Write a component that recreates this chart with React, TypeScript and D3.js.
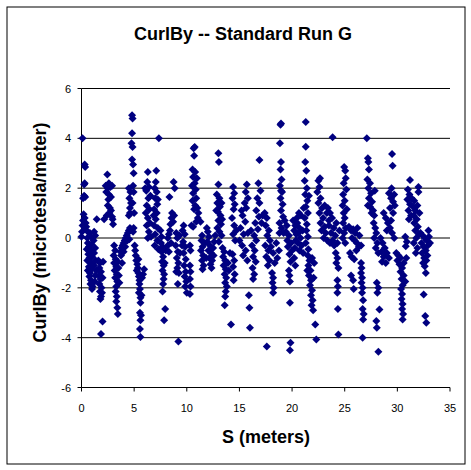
import React from "react";
import * as d3 from "d3";

const TITLE = "CurlBy -- Standard Run G";
const X_TITLE = "S (meters)";
const Y_TITLE = "CurlBy (microtesla/meter)";
const X_TICKS = [0, 5, 10, 15, 20, 25, 30, 35];
const Y_TICKS = [-6, -4, -2, 0, 2, 4, 6];

// [S (m), CurlBy], grouped by 5 m sections
const SEC_A: [number, number][] = [
  [0.1,4.0],[0.3,2.95],[0.35,2.85],[0.3,2.2],[0.25,2.15],[0.15,1.6],[0.35,1.65],[0.25,1.7],[0.2,0.95],[0.3,0.8],[0.15,0.7],[0.4,0.6],[0.1,0.5],[0.3,0.35],[0.05,0.25],[0.0,0.05],[0.45,0.45],
  [0.6,0.25],[0.8,0.2],[0.55,0.0],[0.9,0.05],[0.6,-0.2],[0.7,-0.35],[0.5,-0.45],[0.85,-0.5],[0.65,-0.65],[0.75,-0.8],[0.55,-0.9],[0.9,-1.0],[0.7,-1.15],[0.6,-1.3],[0.8,-1.4],[0.75,-1.55],[0.9,-1.7],[0.85,-1.85],[1.0,-2.05],[1.05,-1.95],[0.95,-1.25],[1.0,-0.75],[0.95,-0.25],
  [1.2,0.25],[1.3,0.1],[1.15,-0.1],[1.3,-0.4],[1.2,-0.6],[1.35,-0.9],[1.2,-1.1],[1.4,-1.3],[1.3,-1.5],[1.45,0.75],[1.25,-1.75],
  [1.6,-0.9],[1.75,-1.0],[1.7,-1.2],[1.85,-1.35],[1.65,-1.5],[1.8,-1.65],[1.7,-1.85],[1.9,-2.0],[1.75,-2.15],[1.85,-2.35],[1.8,-2.45],[2.0,-3.35],[1.85,-3.85],[2.05,-0.95],[2.0,-1.6],[1.95,-2.2],
  [2.15,0.75],[2.4,0.9],[2.45,2.55],[2.3,2.1],[2.5,2.0],[2.35,1.85],[2.6,1.75],[2.55,1.55],[2.7,1.2],[2.65,1.0],[2.8,1.1],[2.9,0.85],[3.0,0.55],[2.95,0.75],[2.9,2.1],[2.75,2.05],[2.6,2.2],[2.8,1.65],[2.5,1.3],
  [3.1,-0.3],[3.2,-0.5],[3.05,-0.7],[3.25,-0.85],[3.1,-1.0],[3.3,-1.15],[3.15,-1.3],[3.35,-1.45],[3.2,-1.6],[3.4,-1.75],[3.3,-1.95],[3.25,-2.15],[3.35,-2.35],[3.3,-2.55],[3.4,-2.8],[3.45,-3.05],[3.5,-1.2],[3.55,-1.5],[3.45,-0.95],[3.6,-1.8],
  [3.7,-0.55],[3.8,-0.4],[3.9,-0.3],[3.75,-0.7],[4.0,-0.2],[4.1,-0.1],[4.2,0.0],[4.3,0.1],[4.4,0.2],[4.5,0.3],[4.6,0.4],[4.5,0.9],[4.6,1.0],[3.85,-1.0],[4.0,-0.55],[4.15,-0.35],[4.35,-0.1],[4.55,-0.05],[4.7,0.35],
  [4.5,2.0],[4.65,1.85],[4.7,1.4],[4.6,1.2],[4.55,1.6],
  [4.8,4.93],[4.85,4.8],[4.8,4.2],[4.75,3.8],[4.85,3.65],[4.8,3.15],[4.9,2.95],[4.95,2.6],[4.9,2.1],[4.95,1.85],[4.85,1.4],[5.0,1.0],[4.95,0.4],[4.9,0.25],
];

const SEC_B: [number, number][] = [
  [5.05,-0.3],[5.1,-0.5],[5.15,-0.7],[5.2,-0.9],[5.3,-1.05],[5.35,-1.2],[5.4,-1.4],[5.45,-1.55],[5.5,-1.7],[5.5,-1.85],[5.55,-2.05],[5.45,-2.2],[5.6,-2.4],[5.6,-2.6],[5.55,-3.0],[5.65,-3.1],[5.6,-3.3],[5.55,-3.65],[5.6,-3.97],[5.7,-2.3],[5.4,-0.85],[5.25,-1.3],
  [5.95,-1.25],[5.85,-1.45],[5.75,-1.6],
  [6.3,2.65],[6.25,2.25],[6.4,2.05],[6.15,1.9],[6.35,1.6],[6.2,1.3],[6.45,1.15],[6.1,1.0],[6.3,0.8],[6.5,0.6],[6.2,0.5],[6.4,0.25],[6.6,0.05],[6.3,0.0],[6.55,1.7],[6.05,2.0],
  [7.1,2.7],[7.05,2.25],[6.95,2.0],[7.15,1.85],[7.0,1.6],[7.2,1.35],[6.9,1.15],[7.15,1.0],[7.05,0.75],[6.9,0.5],[7.25,0.4],[7.0,0.15],[7.2,-0.1],[6.95,-0.3],[7.3,-0.45],[7.35,4.0],[6.85,0.9],[7.25,1.55],
  [7.5,0.3],[7.6,0.05],[7.55,-0.2],[7.7,-0.35],[7.6,-0.55],[7.75,-0.75],[7.65,-0.95],[7.8,-1.1],[7.7,-1.3],[7.85,-1.45],[7.8,-1.65],[7.75,-1.85],[7.7,-2.15],[7.95,-2.85],[7.85,-3.3],[8.0,-0.5],[7.9,-1.0],
  [8.2,0.0],[8.3,0.15],[8.4,0.3],[8.45,0.55],[8.55,0.8],[8.6,1.0],[8.35,1.65],[8.75,2.25],[8.85,2.0],[8.2,-0.3],[8.3,-0.55],[8.5,-0.2],[8.7,0.65],[8.8,0.9],
  [9.0,0.2],[9.1,0.0],[8.95,-0.3],[9.15,-0.55],[9.05,-0.8],[9.2,-1.0],[9.1,-1.2],[9.0,-1.35],[9.25,-1.4],[9.15,-1.85],[9.2,-4.15],[9.3,0.1],[9.35,-0.6],
  [9.7,0.5],[9.6,0.3],[9.8,0.15],[9.65,-0.15],[9.85,-0.35],[9.7,-0.6],[9.9,-0.85],[9.75,-1.1],[9.9,-1.35],[9.8,-1.55],[9.95,-1.75],[9.85,-1.95],[10.0,-2.2],[9.55,-0.3],
];

const SEC_C: [number, number][] = [
  [10.65,3.6],[10.75,3.65],[10.7,3.3],[10.55,2.75],[10.8,2.65],[10.6,2.45],[10.75,2.2],[10.5,2.1],[10.85,1.95],[10.6,1.8],[10.9,1.6],[10.55,1.5],[10.8,1.3],[10.7,1.15],[11.0,1.2],[11.1,1.0],[10.45,0.5],[10.6,0.45],[10.3,-0.3],[10.35,-0.5],[10.3,-1.1],[10.35,-1.35],[10.3,-1.65],[10.35,-1.95],[10.3,-2.25],[10.9,0.65],[11.05,0.8],[10.95,2.4],
  [11.3,0.65],[11.45,0.1],[11.4,-0.1],[11.5,-0.35],[11.35,-0.5],[11.55,-0.7],[11.45,-0.9],[11.6,-1.1],[11.5,-1.25],[11.7,-0.2],
  [11.9,0.4],[12.0,0.25],[12.1,0.05],[11.95,-0.15],[12.2,-0.3],[12.05,-0.5],[12.3,-0.6],[12.15,-0.8],[12.4,-0.9],[12.25,-1.05],[12.5,-0.4],[12.6,-0.15],[12.7,0.1],[12.55,-0.7],[12.35,-1.2],[11.85,-0.8],
  [13.0,3.4],[13.05,3.05],[13.0,2.15],[12.85,1.75],[13.1,1.6],[12.9,1.4],[13.15,1.25],[12.95,1.05],[13.2,0.9],[13.0,0.7],[13.25,0.55],[12.9,0.4],[13.1,0.25],[13.3,0.1],[13.05,-0.15],[12.8,1.1],[13.3,1.4],[13.35,0.75],
  [13.4,-0.4],[13.55,-0.55],[13.45,-0.75],[13.65,-0.9],[13.5,-1.1],[13.7,-1.25],[13.6,-1.45],[13.75,-1.6],[13.65,-1.8],[13.8,-1.95],[13.7,-2.15],[13.65,-2.35],[13.6,-2.7],[14.2,-3.47],[13.9,-1.0],[14.0,-1.3],[14.1,-0.6],
  [14.4,2.05],[14.5,1.8],[14.35,1.6],[14.55,1.35],[14.45,1.15],[14.3,0.8],[14.5,0.5],[14.4,0.15],[14.6,-0.1],[14.35,-0.65],[14.5,-0.9],[14.4,-1.15],[14.55,-1.45],[14.45,-1.7],[14.7,0.3],
  [15.7,2.15],[15.6,1.85],[15.8,1.6],[15.5,1.4],[15.65,1.2],[15.3,0.9],[15.55,0.65],[15.1,0.4],[15.4,0.15],[15.0,-0.1],[15.25,-0.3],[15.6,-0.5],[15.35,-0.7],[15.75,-0.9],[15.9,-2.3],[15.95,-2.8],[16.0,-3.6],[15.2,1.1],[15.8,0.2],
];

const SEC_D: [number, number][] = [
  [16.9,3.13],[16.8,2.2],[17.0,1.9],[16.7,1.6],[16.9,1.4],[16.6,1.1],[16.85,0.85],[16.5,0.6],[16.75,0.35],[16.4,0.1],[16.6,-0.1],[16.2,-0.3],[16.45,-0.5],[16.3,-0.75],[16.55,-0.95],[16.25,-1.2],[16.4,-1.45],[16.3,-1.65],[16.1,0.3],[17.1,0.6],[17.2,0.9],
  [17.4,1.0],[17.6,0.8],[17.5,0.5],[17.8,0.3],[17.65,0.1],[17.9,-0.1],[17.45,-0.3],[17.75,-0.5],[18.0,-0.35],[17.55,-0.75],[17.85,-0.9],[18.2,-0.6],[17.7,-1.1],[18.35,-1.0],[18.6,-0.8],[18.75,-0.5],[18.1,-1.4],[18.2,-1.6],[18.15,-1.8],[18.25,-2.0],[18.2,-2.2],[17.6,-4.35],[18.5,-0.2],[18.8,0.2],
  [18.9,4.55],[18.95,4.6],[18.85,3.8],[18.95,3.05],[18.9,2.75],[19.0,2.35],[18.85,2.1],[19.05,1.85],[18.9,1.6],[19.1,1.35],[18.95,1.1],[19.15,0.85],[18.8,0.6],[19.0,0.4],[19.2,0.2],[18.95,1.9],
  [19.3,0.7],[19.5,0.5],[19.4,0.25],[19.7,0.1],[19.55,-0.1],[19.9,-0.2],[19.6,-0.35],[20.0,-0.5],[19.75,-0.65],[20.2,-0.8],[19.85,-0.95],[20.3,-1.1],[19.7,-1.3],[19.75,-1.5],[19.8,-1.75],[19.8,-2.6],[19.85,-4.2],[19.8,-4.5],
];

const SEC_E: [number, number][] = [
  [20.1,0.7],[20.3,0.5],[20.5,0.6],[20.7,0.4],[20.2,0.3],[20.4,0.15],[20.6,0.2],[20.8,0.0],[20.35,-0.1],[20.55,-0.2],[20.9,-0.3],[20.25,-0.4],[20.7,-0.5],[21.0,0.3],[20.45,0.8],[20.65,1.0],[20.85,0.9],[21.05,-0.6],
  [21.3,4.66],[21.3,3.66],[21.25,3.05],[21.35,2.7],[21.2,2.3],[21.4,2.0],[21.25,1.75],[21.45,1.5],[21.3,1.25],[21.5,1.0],[21.2,0.8],[21.4,0.55],[21.35,0.3],[21.5,0.05],[21.3,-0.2],[21.55,-0.45],[21.1,1.2],[21.6,1.7],
  [21.5,-0.7],[21.65,-0.9],[21.55,-1.1],[21.75,-1.3],[21.6,-1.5],[21.8,-1.7],[21.7,-1.9],[21.9,-2.1],[21.8,-2.3],[21.95,-2.5],[21.85,-2.7],[22.0,-2.9],[22.2,-3.47],[22.3,-4.07],[21.9,-0.8],[22.1,-1.0],[22.05,-1.6],[21.45,-1.3],
  [22.5,2.3],[22.6,2.05],[22.4,1.85],[22.7,1.6],[22.5,1.4],[22.85,1.2],[22.6,1.0],[22.95,0.8],[22.7,0.6],[23.1,0.45],[22.8,0.3],[23.2,0.2],[23.0,0.0],[23.35,-0.1],[23.1,1.3],[23.3,1.0],[23.5,0.7],[22.65,2.4],
  [23.85,4.04],
  [23.4,1.2],[23.6,1.0],[23.8,0.8],[23.5,0.5],[23.95,0.4],[23.7,0.2],[24.1,0.1],[23.85,-0.1],[24.3,-0.2],[24.0,-0.3],[24.5,0.3],[24.2,0.6],[23.6,-0.2],
  [24.15,-0.6],[24.3,-0.8],[24.2,-1.0],[24.4,-1.2],[24.3,-1.7],[24.35,-1.95],[24.3,-2.2],[24.35,-2.85],[24.4,-3.87],
  [24.95,2.85],[25.05,2.7],[25.1,2.4],[24.9,2.2],[25.15,1.95],[24.85,1.75],[25.0,1.5],[24.8,1.3],[25.2,1.15],[24.9,1.0],[25.0,0.8],[24.85,0.6],[25.1,0.4],[24.95,0.2],[24.8,0.0],[25.05,-0.2],
];

const SEC_F: [number, number][] = [
  [25.4,0.45],[25.6,0.3],[25.8,0.35],[26.0,0.2],[26.2,0.4],[26.4,0.1],[25.7,0.0],[25.95,-0.1],[26.15,-0.2],[26.35,-0.35],[25.5,-0.6],[25.65,-0.75],[25.9,-0.85],[26.1,-0.5],[26.55,-0.3],[25.8,-1.7],[25.85,-2.05],[25.6,-1.5],
  [26.55,-1.0],[26.6,-1.2],[26.55,-1.4],[26.65,-1.6],[26.6,-1.8],[26.7,-2.0],[26.65,-2.2],[26.75,-2.5],[26.7,-2.85],[26.8,-3.05],[26.75,-3.27],[26.7,-4.0],
  [27.1,4.0],[27.2,3.2],[27.25,3.05],[27.3,2.75],[27.15,2.35],[27.4,2.2],[27.25,2.0],[27.5,1.8],[27.3,1.6],[27.6,1.45],[27.4,1.25],[27.7,1.1],[27.55,1.0],[27.2,1.3],[27.85,1.9],[27.8,0.9],
  [27.75,0.6],[27.9,0.4],[28.0,0.2],[27.8,0.0],[28.1,-0.2],[27.95,-0.4],[28.2,-0.6],[28.05,-1.8],[28.2,-2.0],[28.1,-2.2],[28.3,-2.87],[28.0,-3.33],[28.05,-3.6],[28.2,-4.57],
  [28.4,0.0],[28.6,-0.2],[28.8,-0.4],[28.5,-0.55],[29.0,-0.6],[28.7,-0.75],[29.2,-0.8],[28.9,-1.0],[28.55,-0.95],
  [28.7,1.0],[28.9,0.8],[29.1,0.6],[29.3,0.4],[29.5,0.2],[29.7,0.0],[29.0,0.3],[29.4,0.7],[29.6,1.0],[29.2,1.8],[29.4,1.6],[29.6,1.45],[29.75,1.3],[29.3,1.2],[29.5,3.37],[29.55,2.9],[29.45,2.0],[29.7,1.75],
  [29.9,-0.6],[30.1,-0.7],[30.0,-0.9],[30.3,-0.8],[30.2,-1.05],[30.45,-1.2],[30.3,-1.35],[30.6,-1.5],[30.4,-1.65],[30.75,-1.75],[30.5,-1.9],[30.35,-2.05],[30.45,-2.25],[30.4,-2.45],[30.5,-2.65],[30.45,-2.85],[30.55,-3.05],[30.5,-3.27],[30.85,-0.8],[30.6,-1.0],
];

const SEC_G: [number, number][] = [
  [30.75,0.05],[30.9,-0.15],[30.8,-0.33],
  [31.2,2.33],[31.0,1.95],[31.15,1.75],[30.95,1.55],[31.2,1.35],[31.05,1.1],[31.3,0.9],[31.1,0.75],[31.35,1.6],
  [31.5,1.25],[31.7,1.1],[31.55,0.9],[31.85,0.75],[31.6,0.6],[31.95,0.45],[31.7,0.3],[32.05,0.15],[31.8,0.0],[31.55,-0.2],[31.9,-0.4],[31.75,-0.6],[32.0,2.05],[32.0,1.85],[31.6,1.5],[31.9,1.3],[32.1,1.0],
  [32.2,0.2],[32.4,0.1],[32.6,0.0],[32.8,-0.1],[33.0,0.05],[32.3,-0.2],[32.5,-0.35],[32.7,-0.5],[32.9,-0.3],[32.35,-0.6],[32.55,-0.8],[32.75,-0.9],[32.6,-1.13],[32.45,-1.0],[32.5,-2.27],[32.65,-3.13],[32.75,-3.4],[33.1,-0.2],[32.95,0.3],[32.85,-0.7],[32.7,-1.4],
];

const ALL_POINTS = [...SEC_A, ...SEC_B, ...SEC_C, ...SEC_D, ...SEC_E, ...SEC_F, ...SEC_G];

const W = 471;
const H = 470;
const PLOT = { left: 81.5, right: 450, top: 88.5, bottom: 387.5 };
const FONT = "Arial, 'Liberation Sans', Helvetica, sans-serif";
const MARK = "#000080";

export default function App() {
  const x = d3.scaleLinear().domain([0, 35]).range([PLOT.left, PLOT.right]);
  const y = d3.scaleLinear().domain([-6, 6]).range([PLOT.bottom, PLOT.top]);
  const r = 4;
  const diamond = `M0,${-r}L${r},0L0,${r}L${-r},0Z`;

  return (
    <svg
      width={W}
      height={H}
      style={{ position: "absolute", left: 0, top: 0, background: "#fff" }}
      fontFamily={FONT}
    >
      <rect x={0} y={0} width={W} height={H} fill="#fff" />
      <rect x={7} y={7} width={458} height={457} fill="none" stroke="#000" strokeWidth={1} />
      <text x={243} y={39.5} textAnchor="middle" fontSize={18} fontWeight="bold">
        {TITLE}
      </text>
      {Y_TICKS.map((t) => (
        <line key={"g" + t} x1={PLOT.left} x2={PLOT.right} y1={y(t)} y2={y(t)} stroke="#000" strokeWidth={1} />
      ))}
      <line x1={PLOT.left} x2={PLOT.left} y1={PLOT.top} y2={PLOT.bottom} stroke="#000" />
      {Y_TICKS.map((t) => (
        <g key={"yt" + t}>
          <line x1={PLOT.left - 4} x2={PLOT.left} y1={y(t)} y2={y(t)} stroke="#000" />
          <text x={PLOT.left - 10.5} y={y(t) + 4} textAnchor="end" fontSize={11}>
            {t}
          </text>
        </g>
      ))}
      {X_TICKS.map((t) => (
        <g key={"xt" + t}>
          <line x1={x(t)} x2={x(t)} y1={PLOT.bottom} y2={PLOT.bottom + 4} stroke="#000" />
          <text x={x(t)} y={PLOT.bottom + 24} textAnchor="middle" fontSize={11}>
            {t}
          </text>
        </g>
      ))}
      <g fill={MARK}>
        {ALL_POINTS.map(([s, v], i) => (
          <path key={i} d={diamond} transform={`translate(${x(s)},${y(v)})`} />
        ))}
      </g>
      <text x={266} y={443} textAnchor="middle" fontSize={18} fontWeight="bold">
        {X_TITLE}
      </text>
      <text
        transform={`translate(46,232.5) rotate(-90)`}
        textAnchor="middle"
        fontSize={18}
        fontWeight="bold"
      >
        {Y_TITLE}
      </text>
    </svg>
  );
}
